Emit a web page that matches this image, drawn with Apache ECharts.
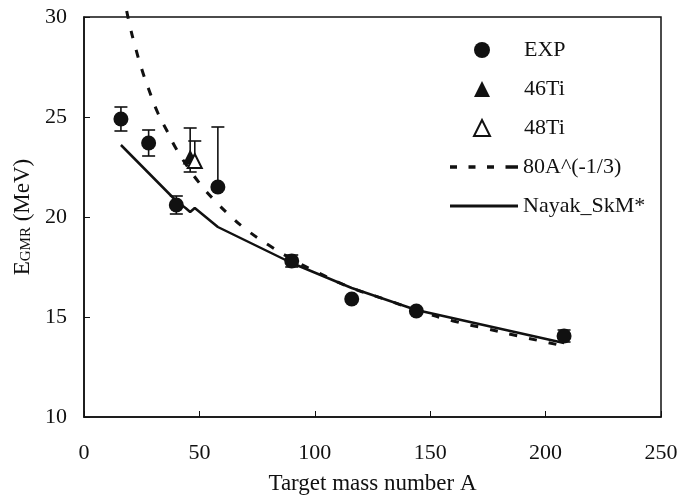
<!DOCTYPE html>
<html><head><meta charset="utf-8">
<script src="https://cdn.jsdelivr.net/npm/echarts@6/dist/echarts.min.js"></script>
<style>html,body{margin:0;padding:0;background:#fff}#c{width:696px;height:504px}</style>
</head><body><div id="c"></div>
<script>
// Experimental points
var expA    = [16, 28, 40, 58, 90, 116, 144, 208];
var expE    = [24.9, 23.7, 20.6, 21.5, 17.8, 15.9, 15.3, 14.05];
var expErrUp   = [0.6, 0.65, 0.45, 3.0, 0.3, 0, 0, 0.3];
var expErrDown = [0.6, 0.65, 0.45, 0, 0.3, 0, 0, 0.3];
// Ti isotopes
var ti46A = [46], ti46E = [23.0], ti46ErrUp = [1.45], ti46ErrDown = [0.75];
var ti48A = [48], ti48E = [22.8], ti48ErrUp = [1.0], ti48ErrDown = [0.35];
// 80A^(-1/3) curve
var empA = [18.5, 20, 22, 25, 28, 32, 36, 40, 45, 50, 56, 63, 70, 80, 90, 100, 115, 130, 145, 160, 175, 190, 208];
var empE = [30.3, 29.5, 28.6, 27.4, 26.4, 25.2, 24.3, 23.4, 22.5, 21.7, 20.9, 20.1, 19.4, 18.6, 17.9, 17.3, 16.5, 15.9, 15.3, 14.8, 14.4, 14.0, 13.55];
// Nayak SkM* curve
var nayA = [16, 28, 40, 44, 46, 48, 58, 90, 116, 144, 208];
var nayE = [23.6, 22.2, 20.8, 20.45, 20.25, 20.45, 19.5, 17.7, 16.45, 15.35, 13.7];
// Axis ticks
var xTicks = [0, 50, 100, 150, 200, 250];
var yTicks = [10, 15, 20, 25, 30];

function pairs(a, b) { return a.map(function (v, i) { return [v, b[i]]; }); }
function errRender(params, api) {
  var x = api.value(0);
  var lo = api.coord([x, api.value(1)]);
  var hi = api.coord([x, api.value(2)]);
  var hw = 6.5;
  var st = { stroke: '#111', lineWidth: 1.6 };
  var ch = [{ type: 'line', shape: { x1: lo[0], y1: lo[1], x2: hi[0], y2: hi[1] }, style: st },
            { type: 'line', shape: { x1: hi[0] - hw, y1: hi[1], x2: hi[0] + hw, y2: hi[1] }, style: st }];
  if (api.value(1) < api.value(3)) {
    ch.push({ type: 'line', shape: { x1: lo[0] - hw, y1: lo[1], x2: lo[0] + hw, y2: lo[1] }, style: st });
  }
  return { type: 'group', children: ch };
}
function errSeries(a, e, up, dn) {
  var d = a.map(function (v, i) { return [v, e[i] - dn[i], e[i] + up[i], e[i]]; })
           .filter(function (r) { return r[2] > r[1]; });
  return { type: 'custom', renderItem: errRender, data: d, z: 1, silent: true,
           encode: { x: 0, y: [1, 2] } };
}

var font = 'Liberation Serif, Times New Roman, serif';
var legendText = { fontFamily: font, fontSize: 22, color: '#111' };
var dashIcon = 'path://M0,0h7v3.5h-7z M18.5,0h7v3.5h-7z M37,0h7v3.5h-7z M55.5,0h12.5v3.5h-12.5z';
var solidIcon = 'path://M0,0h68v3h-68z';
var chart = echarts.init(document.getElementById('c'), null, { renderer: 'canvas' });
chart.setOption({
  backgroundColor: '#fff',
  animation: false,
  textStyle: { fontFamily: font, color: '#111' },
  grid: { left: 84, top: 17, right: 35, bottom: 87, show: true, borderColor: '#111', borderWidth: 1.5, backgroundColor: 'transparent' },
  xAxis: {
    type: 'value', min: xTicks[0], max: xTicks[xTicks.length - 1], interval: 50,
    name: 'Target mass number A', nameLocation: 'middle', nameGap: 55,
    nameTextStyle: { fontFamily: font, fontSize: 23, color: '#111' },
    axisLine: { lineStyle: { color: '#111', width: 1.5 } },
    axisTick: { inside: true, length: 6, lineStyle: { color: '#111', width: 1 } },
    axisLabel: { margin: 25, fontFamily: font, fontSize: 22, color: '#111' },
    splitLine: { show: false }
  },
  yAxis: {
    type: 'value', min: yTicks[0], max: yTicks[yTicks.length - 1], interval: 5,
    name: '{e|E}{s|GMR}{e| (MeV)}', nameLocation: 'middle', nameGap: 38, nameRotate: 90,
    nameTextStyle: { fontFamily: font, color: '#111',
      rich: { e: { fontFamily: font, fontSize: 23, color: '#111' }, s: { fontFamily: font, fontSize: 15, color: '#111', padding: [6, 0, 0, 0] } } },
    axisLine: { lineStyle: { color: '#111', width: 1.5 } },
    axisTick: { inside: true, length: 6, lineStyle: { color: '#111', width: 1 } },
    axisLabel: { margin: 17, fontFamily: font, fontSize: 22, color: '#111' },
    splitLine: { show: false }
  },
  legend: [{
    orient: 'vertical', left: 468, top: 34, itemWidth: 16, itemHeight: 16, itemGap: 17,
    textStyle: Object.assign({ padding: [0, 0, 0, 29] }, legendText),
    data: [{ name: 'EXP', icon: 'circle' }, { name: '46Ti', icon: 'triangle' }, { name: '48Ti', icon: 'triangle' }]
  }, {
    orient: 'vertical', left: 445, top: 151, itemWidth: 68, itemHeight: 16, itemGap: 17,
    textStyle: legendText,
    data: [{ name: '80A^(-1/3)', icon: dashIcon }, { name: 'Nayak_SkM*', icon: solidIcon }]
  }],
  series: [
    errSeries(expA, expE, expErrUp, expErrDown),
    errSeries(ti46A, ti46E, ti46ErrUp, ti46ErrDown),
    errSeries(ti48A, ti48E, ti48ErrUp, ti48ErrDown),
    { name: '80A^(-1/3)', type: 'line', data: pairs(empA, empE), showSymbol: false, symbol: 'none', smooth: true,
      clip: false, z: 2, lineStyle: { color: '#111', width: 3, type: [8, 12] }, itemStyle: { color: '#111' } },
    { name: 'Nayak_SkM*', type: 'line', data: pairs(nayA, nayE), showSymbol: false, symbol: 'none',
      z: 2, lineStyle: { color: '#111', width: 2.5 }, itemStyle: { color: '#111' } },
    { name: 'EXP', type: 'scatter', data: pairs(expA, expE), symbol: 'circle', symbolSize: 15, z: 3,
      itemStyle: { color: '#111', opacity: 1 } },
    { name: '46Ti', type: 'scatter', data: pairs(ti46A, ti46E), symbol: 'triangle', symbolSize: 15, z: 3,
      itemStyle: { color: '#111', opacity: 1 } },
    { name: '48Ti', type: 'scatter', data: pairs(ti48A, ti48E), symbol: 'triangle', symbolSize: 14, z: 4,
      itemStyle: { color: '#fff', borderColor: '#111', borderWidth: 2, opacity: 1 } }
  ]
});
</script></body></html>
